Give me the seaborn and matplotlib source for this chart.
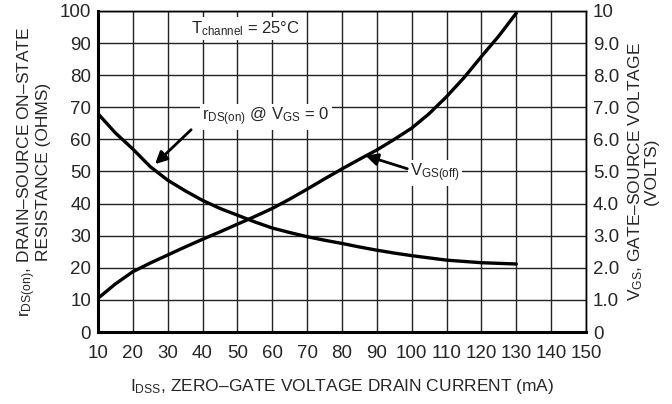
import matplotlib
matplotlib.use("Agg")
import matplotlib.pyplot as plt
import pandas as pd
import seaborn as sns

# drain current (mA) and the two curves
i_dss = [10, 15, 20, 25, 30, 35, 40, 45, 50, 55, 60, 65, 70, 75, 80, 85, 90, 95,
         100, 105, 110, 115, 120, 125, 130]
r_ds_on = [68, 62, 57, 51.5, 47.3, 44, 41, 38.5, 36.4, 34.3, 32.4, 31, 29.7, 28.6, 27.6,
           26.5, 25.5, 24.6, 23.8, 23.1, 22.4, 22.0, 21.6, 21.4, 21.2]
v_gs_off = [1.05, 1.5, 1.88, 2.15, 2.4, 2.65, 2.89, 3.12, 3.36, 3.6, 3.85, 4.14, 4.45, 4.77,
            5.08, 5.38, 5.67, 6.0, 6.35, 6.8, 7.33, 7.92, 8.58, 9.22, 9.93]

x_ticks = list(range(10, 151, 10))
left_ticks = list(range(0, 101, 10))
right_ticks = list(range(0, 11))
right_labels = ["0"] + [f"{v:.1f}" for v in range(1, 10)] + ["10"]

df = pd.DataFrame({"i_dss": i_dss, "r_ds_on": r_ds_on, "v_gs_off": v_gs_off})

sns.set_style("white")
plt.rcParams["font.family"] = ["Liberation Sans", "DejaVu Sans"]
plt.rcParams["mathtext.fontset"] = "custom"
plt.rcParams["mathtext.rm"] = "Liberation Sans"
plt.rcParams["mathtext.it"] = "Liberation Sans"

fig = plt.figure(figsize=(6.72, 4.04), dpi=100)
ax = fig.add_axes([0.1458, 0.178, 0.7262, 0.795])
ax2 = ax.twinx()

sns.lineplot(data=df, x="i_dss", y="r_ds_on", ax=ax, color="black", linewidth=2.4)
sns.lineplot(data=df, x="i_dss", y="v_gs_off", ax=ax2, color="black", linewidth=2.4)

ax.set_xlim(10, 150)
ax.set_ylim(0, 100)
ax2.set_ylim(0, 10)
ax.set_xticks(x_ticks)
ax.set_yticks(left_ticks)
ax2.set_yticks(right_ticks)
ax2.set_yticklabels(right_labels)
ax.grid(True, color="#222222", linewidth=1.0)
ax.set_axisbelow(True)

for a in (ax, ax2):
    a.tick_params(length=0, labelsize=13.5, pad=5)
    for s in a.spines.values():
        s.set_color("black")
        s.set_linewidth(1.0)
ax.tick_params(axis="x", pad=9)
ax.spines["left"].set_linewidth(2.2)
ax.spines["bottom"].set_linewidth(2.2)

ax.set_xlabel(r"$\mathregular{I_{DSS}}$, ZERO–GATE VOLTAGE DRAIN CURRENT (mA)", fontsize=12.5, labelpad=11)
ax.set_ylabel(r"$\mathregular{r_{DS(on)}}$, DRAIN–SOURCE ON–STATE" + "\nRESISTANCE (OHMS)",
              fontsize=12.5, labelpad=6, linespacing=0.9)
ax2.set_ylabel(r"$\mathregular{V_{GS}}$, GATE–SOURCE VOLTAGE" + "\n(VOLTS)",
               fontsize=12.5, labelpad=5, linespacing=0.9, rotation=90)

box = dict(facecolor="white", edgecolor="none", pad=1.5)
ax.text(52.2, 94.5, r"$\mathregular{T_{channel}}$ = 25°C", fontsize=12, ha="center", va="center", bbox=box)
ax.text(58.2, 67, r"$\mathregular{r_{DS(on)}}$ @ $\mathregular{V_{GS}}$ = 0", fontsize=12,
        ha="center", va="center", bbox=box)
ax.text(106.7, 49.5, r"$\mathregular{V_{GS(off)}}$", fontsize=12, ha="center", va="center", bbox=box)

ax.annotate("", xy=(25.8, 51.7), xytext=(37.3, 63.6),
            arrowprops=dict(arrowstyle="-|>", color="black", lw=2, mutation_scale=18))
ax.annotate("", xy=(86, 55.2), xytext=(99.5, 50.6),
            arrowprops=dict(arrowstyle="-|>", color="black", lw=2, mutation_scale=18))

fig.savefig("out.png", dpi=100)
